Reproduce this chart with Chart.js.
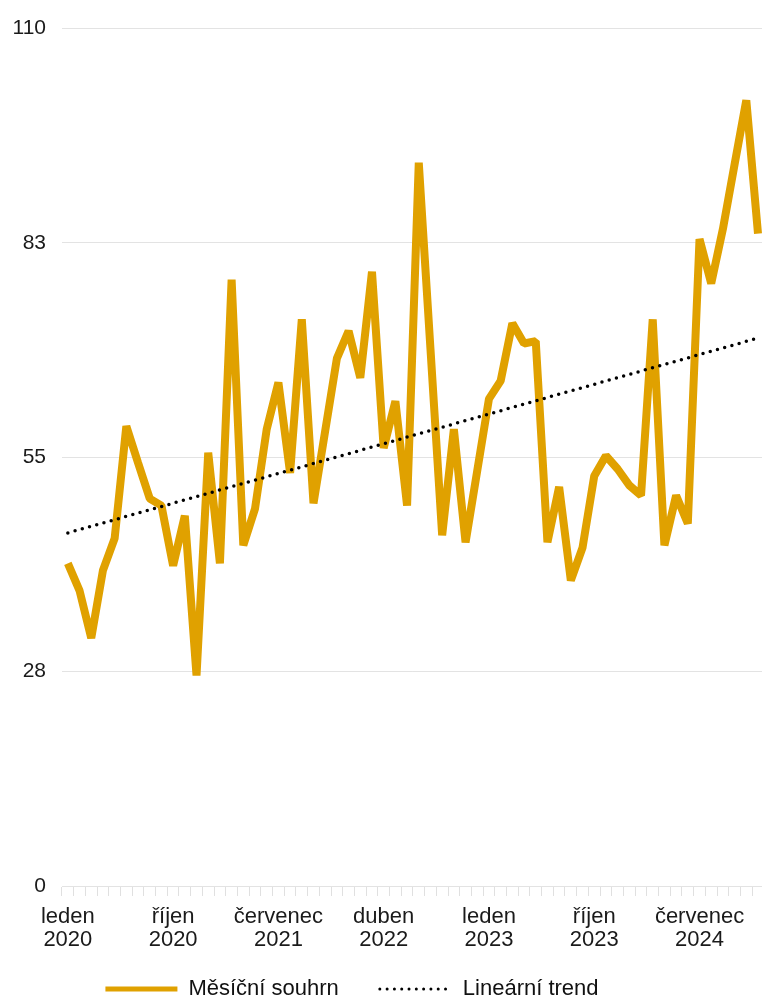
<!DOCTYPE html>
<html lang="cs">
<head>
<meta charset="utf-8">
<title>Měsíční souhrn</title>
<script src="https://cdn.jsdelivr.net/npm/chart.js@4.4.0/dist/chart.umd.min.js"></script>
<style>
  html, body { margin: 0; padding: 0; background: #fff; overflow: hidden; }
  /* a bit wider than the window: the plot runs slightly past the right edge in the original */
  #wrap { position: relative; width: 767px; height: 1025px; }
</style>
</head>
<body>
<div id="wrap"><canvas id="chart"></canvas></div>
<script>
// Czech month names and years for the category axis
const months = ["leden", "únor", "březen", "duben", "květen", "červen",
  "červenec", "srpen", "září", "říjen", "listopad", "prosinec"];
const years = [2020, 2021, 2022, 2023, 2024];

// monthly values (Jan 2020 .. Dec 2024)
const monthlyValues = [
  41.4, 37.9, 31.8, 40.5, 44.6, 59.0, 54.3, 49.7, 48.8, 41.1, 47.5, 27.0,
  55.6, 41.4, 77.8, 43.7, 48.4, 58.6, 64.6, 53.0, 72.7, 49.1, 58.4, 67.7,
  71.2, 65.2, 78.8, 56.2, 62.2, 48.8, 92.8, 68.9, 45.0, 58.6, 44.1, 53.3,
  62.5, 64.8, 72.2, 69.6, 69.9, 44.1, 51.2, 39.2, 43.4, 52.6, 55.2, 53.5,
  51.4, 50.1, 72.7, 43.7, 50.1, 46.5, 83.0, 77.3, 84.3, 92.6, 100.8, 83.7
];

// linear trend: value at the first and at the last month
const trendEnds = [45.3, 70.3];

const yTicks = [0, 27.5, 55, 82.5, 110];
const labelEvery = 9;

const categories = [];
years.forEach((y) => months.forEach((m) => categories.push(m + " " + y)));

const ORANGE = "#e0a100";
const FONT = "'Liberation Sans', Arial, Helvetica, sans-serif";

// move the legend a bit left and up, as in the original
const legendShift = {
  id: "legendShift",
  afterLayout(chart) {
    const lg = chart.legend;
    if (!lg) return;
    lg.right -= 63;
    lg.top -= 15;
    lg.bottom -= 15;
  }
};

new Chart(document.getElementById("chart"), {
  type: "line",
  data: {
    labels: categories,
    datasets: [
      {
        label: "Měsíční souhrn",
        data: monthlyValues,
        borderColor: ORANGE,
        backgroundColor: ORANGE,
        borderWidth: 8,
        borderJoinStyle: "bevel",
        pointRadius: 0,
        tension: 0,
        order: 1
      },
      {
        label: "Lineární trend",
        data: [
          { x: categories[0], y: trendEnds[0] },
          { x: categories[categories.length - 1], y: trendEnds[1] }
        ],
        borderColor: "#000",
        backgroundColor: "#000",
        borderWidth: 3.5,
        borderDash: [0, 7.5],
        borderCapStyle: "round",
        pointRadius: 0,
        order: 0
      }
    ]
  },
  options: {
    responsive: true,
    maintainAspectRatio: false,
    animation: false,
    layout: { padding: { top: 26, left: 0, right: 0, bottom: 0 } },
    plugins: {
      tooltip: { enabled: false },
      legend: {
        position: "bottom",
        labels: {
          usePointStyle: true,
          pointStyleWidth: 72,
          boxHeight: 22,
          padding: 41,
          color: "#111",
          font: { family: FONT, size: 22 },
          sort: (a, b) => a.datasetIndex - b.datasetIndex,
          generateLabels(chart) {
            const items = Chart.defaults.plugins.legend.labels.generateLabels(chart);
            items.forEach((it) => {
              it.pointStyle = "line";
              if (it.datasetIndex === 0) {
                it.lineWidth = 5;
                it.lineCap = "butt";
                it.lineDash = [];
              } else {
                it.lineWidth = 3;
                it.lineCap = "round";
                it.lineDash = [0, 7.3];
              }
            });
            return items;
          }
        }
      }
    },
    scales: {
      x: {
        offset: true,
        grid: {
          offset: true,
          drawOnChartArea: false,
          drawTicks: true,
          tickLength: 10,
          color: "#e0e0e0"
        },
        border: { display: true, color: "#e3e3e3" },
        ticks: {
          autoSkip: false,
          maxRotation: 0,
          minRotation: 0,
          padding: 9,
          color: "#1a1a1a",
          font: { family: FONT, size: 22, lineHeight: "23px" },
          callback: (v, i) => (i % labelEvery === 0 ? categories[i].split(" ") : "")
        },
        afterFit: (scale) => { scale.height = 66; }
      },
      y: {
        min: 0,
        max: 110,
        afterBuildTicks: (scale) => { scale.ticks = yTicks.map((v) => ({ value: v })); },
        grid: { color: "#e3e3e3", drawTicks: false },
        border: { display: false },
        ticks: {
          padding: 16,
          color: "#1a1a1a",
          font: { family: FONT, size: 21 },
          callback: (v) => Math.round(v)
        },
        afterFit: (scale) => { scale.width = 62; }
      }
    }
  },
  plugins: [legendShift]
});
</script>
</body>
</html>
